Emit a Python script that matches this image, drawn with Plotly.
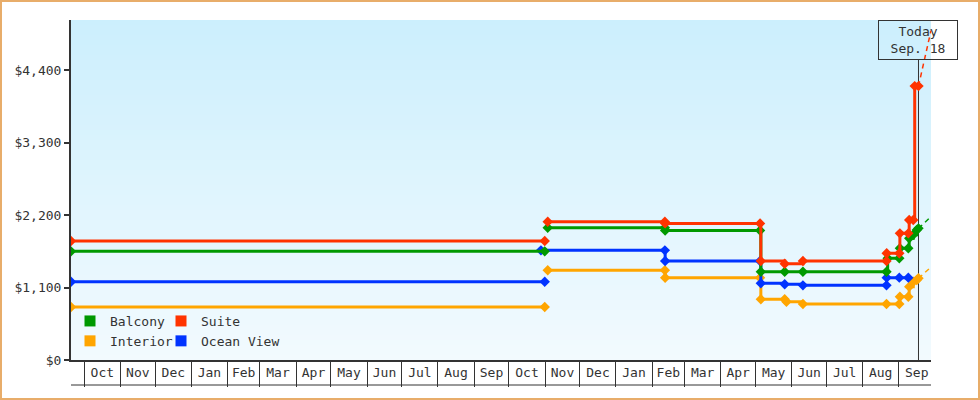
import plotly.graph_objects as go

# ---------------- data ----------------
X_START = "2016-09-19 14:00"
X_END = "2018-09-28 18:00"
TODAY = "2018-09-18"

balcony_dates = ["2016-09-19 14:00", "2017-10-31 18:00", None,
                 "2017-11-03 08:00", "2018-02-12 00:00", "2018-02-12 06:00",
                 "2018-05-04 20:00", "2018-05-05 12:00", "2018-05-26 00:00",
                 "2018-06-10 16:00", "2018-08-21 12:00", "2018-08-22 12:00",
                 "2018-09-01 12:00", "2018-09-02 00:00", "2018-09-09 06:00",
                 "2018-09-10 00:00", "2018-09-13 12:00", "2018-09-16 12:00",
                 "2018-09-18 00:00"]
balcony_prices = [1649, 1649, None,
                  2007, 2007, 1966,
                  1966, 1340, 1340,
                  1340, 1340, 1543,
                  1543, 1695, 1695,
                  1846, 1900, 1972,
                  1998]

suite_dates = ["2016-09-19 14:00", "2017-10-31 18:00", None,
               "2017-11-03 08:00", "2018-02-12 00:00", "2018-02-12 06:00",
               "2018-05-04 20:00", "2018-05-05 12:00", "2018-05-26 00:00",
               "2018-06-10 16:00", "2018-08-21 12:00", "2018-08-21 16:00",
               "2018-09-01 12:00", "2018-09-02 00:00", "2018-09-09 06:00",
               "2018-09-10 00:00", "2018-09-13 12:00", "2018-09-14 18:00",
               "2018-09-18 00:00"]
suite_prices = [1805, 1805, None,
                2098, 2098, 2073,
                2073, 1502, 1460,
                1502, 1502, 1619,
                1619, 1922, 1922,
                2124, 2124, 4157,
                4157]

interior_dates = ["2016-09-19 14:00", "2017-10-31 18:00", None,
                  "2017-11-03 08:00", "2018-02-12 00:00", "2018-02-12 06:00",
                  "2018-05-04 20:00", "2018-05-05 12:00", "2018-05-26 00:00",
                  "2018-05-27 12:00", "2018-06-10 16:00", "2018-08-21 12:00",
                  "2018-09-01 12:00", "2018-09-02 00:00", "2018-09-09 06:00",
                  "2018-09-10 00:00", "2018-09-13 12:00", "2018-09-16 12:00",
                  "2018-09-18 00:00"]
interior_prices = [804, 804, None,
                   1361, 1361, 1249,
                   1249, 921, 921,
                   885, 850, 850,
                   850, 960, 960,
                   1113, 1188, 1214,
                   1240]

ocean_dates = ["2016-09-19 14:00", "2017-10-31 18:00", None,
               "2017-10-28 12:00", "2018-02-12 00:00", "2018-02-12 06:00",
               "2018-05-04 20:00", "2018-05-05 12:00", "2018-05-26 00:00",
               "2018-06-10 16:00", "2018-08-21 12:00", "2018-08-21 16:00",
               "2018-09-01 12:00", "2018-09-09 06:00"]
ocean_prices = [1188, 1188, None,
                1664, 1664, 1502,
                1502, 1164, 1150,
                1133, 1133, 1250,
                1250, 1250]

# projections past today (dashed)
proj_dates = [TODAY, X_END]
suite_proj = [4157, 5000]
balcony_proj = [1998, 2175]
interior_proj = [1240, 1410]

y_tickvals = [0, 1100, 2200, 3300, 4400]
y_ticktext = ["$0", "$1,100", "$2,200", "$3,300", "$4,400"]
today_label = "Today<br>Sep. 18"

# ---------------- style ----------------
FONT = "DejaVu Sans Mono"
TXT = "#333333"
C_BALCONY = "#009900"
C_SUITE = "#ff3300"
C_INTERIOR = "#ffa500"
C_OCEAN = "#0033ff"

W, H = 980, 400
ML, MR, MT, MB = 71, 49, 20, 15
PW, PH = W - ML - MR, H - MT - MB
BAND = 25  # month label band height
PLOT_H = PH - BAND

fig = go.Figure()

def add_series(name, dates, prices, color):
    fig.add_trace(go.Scatter(
        x=dates, y=prices, mode="lines+markers", name=name,
        line=dict(color=color, width=3, shape="hv"),
        marker=dict(symbol="diamond", size=8, color=color),
        connectgaps=False, showlegend=False, hoverinfo="skip"))

def add_proj(dates, prices, color):
    fig.add_trace(go.Scatter(
        x=dates, y=prices, mode="lines",
        line=dict(color=color, width=1.5, dash="5px,4px"),
        showlegend=False, hoverinfo="skip"))

add_proj(proj_dates, interior_proj, C_INTERIOR)
add_proj(proj_dates, balcony_proj, C_BALCONY)
add_proj(proj_dates, suite_proj, C_SUITE)

add_series("Interior", interior_dates, interior_prices, C_INTERIOR)
add_series("Ocean View", ocean_dates, ocean_prices, C_OCEAN)
add_series("Balcony", balcony_dates, balcony_prices, C_BALCONY)
add_series("Suite", suite_dates, suite_prices, C_SUITE)

# legend entries (square swatches)
for name, color, lg in [("Balcony", C_BALCONY, "legend"), ("Interior", C_INTERIOR, "legend"),
                        ("Suite", C_SUITE, "legend2"), ("Ocean View", C_OCEAN, "legend2")]:
    fig.add_trace(go.Scatter(x=[None], y=[None], mode="markers", name=name,
                             marker=dict(symbol="square", size=11, color=color),
                             legend=lg, showlegend=True, hoverinfo="skip"))

shapes = []
# gradient plot background (bands overlap slightly to avoid seams)
top_c = (204, 239, 253)
bot_c = (242, 250, 254)
n = 68
for i in range(n):
    t = i / (n - 1)
    c = tuple(round(top_c[k] + (bot_c[k] - top_c[k]) * t) for k in range(3))
    shapes.append(dict(type="rect", xref="x domain", yref="y domain",
                       x0=0, x1=1, y0=max(0, 1 - (i + 1) / n - 2 / PLOT_H), y1=1 - i / n,
                       fillcolor="rgb(%d,%d,%d)" % c, line=dict(width=0), layer="below"))
# today line
shapes.append(dict(type="line", xref="x", yref="y domain", x0=TODAY, x1=TODAY,
                   y0=0, y1=(PLOT_H - 40) / PLOT_H,
                   line=dict(color=TXT, width=1), layer="below"))
# bottom line of month band
shapes.append(dict(type="line", xref="x domain", yref="paper", x0=0, x1=1, y0=0, y1=0,
                   line=dict(color=TXT, width=1), layer="above"))
# outer border
shapes.append(dict(type="rect", xref="paper", yref="paper",
                   x0=(1 - ML) / PW, x1=(W - 1 - ML) / PW,
                   y0=(1 - MB) / PH, y1=(H - 1 - MB) / PH,
                   line=dict(color="#e8ad6a", width=2), fillcolor="rgba(0,0,0,0)", layer="above"))

LEG_TOP = 306  # figure px
fig.update_layout(
    width=W, height=H, autosize=False,
    margin=dict(l=ML, r=MR, t=MT, b=MB, pad=0, autoexpand=False),
    paper_bgcolor="white", plot_bgcolor="white",
    font=dict(family=FONT, size=13, color=TXT),
    hovermode=False,
    shapes=shapes,
    xaxis=dict(type="date", range=[X_START, X_END], showgrid=False, zeroline=False,
               automargin=False,
               showline=True, linecolor=TXT, linewidth=2,
               ticks="outside", ticklen=BAND, tickwidth=1, tickcolor=TXT,
               dtick="M1", tick0="2016-10-01", tickformat="%b",
               ticklabelmode="period", ticklabelstandoff=-26,
               tickfont=dict(family=FONT, size=13, color=TXT)),
    yaxis=dict(range=[0, 5160], domain=[BAND / PH, 1], showgrid=False, zeroline=False,
               automargin=False,
               showline=True, linecolor=TXT, linewidth=2,
               ticks="outside", ticklen=5, tickwidth=2, tickcolor=TXT,
               tickvals=y_tickvals, ticktext=y_ticktext,
               tickfont=dict(family=FONT, size=13, color=TXT)),
    legend=dict(x=(70 - ML) / PW, xanchor="left", y=(H - MB - LEG_TOP) / PH, yanchor="top",
                bgcolor="rgba(0,0,0,0)", font=dict(family=FONT, size=13, color=TXT),
                tracegroupgap=0),
    legend2=dict(x=(161 - ML) / PW, xanchor="left", y=(H - MB - LEG_TOP) / PH, yanchor="top",
                 bgcolor="rgba(0,0,0,0)", font=dict(family=FONT, size=13, color=TXT),
                 tracegroupgap=0),
    annotations=[dict(x=TODAY, xref="x", y=1, yref="y domain", yanchor="top", xanchor="center",
                      text=today_label, showarrow=False, align="center",
                      font=dict(family=FONT, size=13, color=TXT),
                      bordercolor=TXT, borderwidth=1, borderpad=0,
                      width=78, height=38, bgcolor="rgba(0,0,0,0)")],
)

fig.write_html("out.html", post_script="document.body.style.margin='0';",
               config={"displayModeBar": False, "responsive": False})
